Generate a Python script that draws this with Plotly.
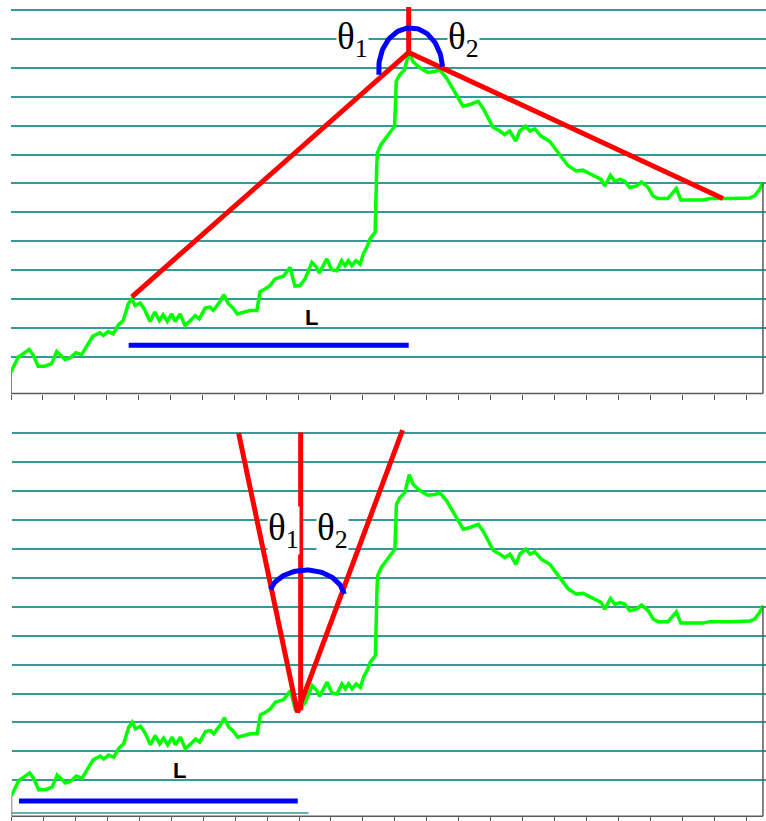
import numpy as np
import plotly.graph_objects as go

# ---------------- data (x in days, ticks every 10; y in price units, grid every 10) -------------
x_days = [0, 2.3, 3.4, 5.7, 7.0, 8.5, 10.6, 12.7, 14.3, 15.9, 16.9, 18.5, 20.3, 22.1, 23.7, 25.6,
          27.8, 28.9, 30.4, 32.0, 33.6, 35.1, 36.7, 37.8, 38.8, 40.4, 41.7, 43.5, 45.0, 46.4, 47.6,
          48.9, 50.3, 51.3, 52.9, 54.4, 56.5, 57.6, 58.9, 60.7, 62.3, 63.3, 65.4, 66.6, 68.0, 69.5,
          70.8, 72.7, 74.8, 76.9, 77.9, 79.5, 81.0, 82.6, 85.2, 87.3, 88.8, 90.4, 92.0, 94.1, 95.6,
          96.4, 98.8, 100.3, 101.9, 103.4, 104.5, 105.5, 106.6, 107.9, 109.2, 110.2, 111.3, 112.3,
          113.9, 114.4, 114.6, 115.7, 118.5, 120.0, 120.5, 121.6, 123.1, 124.5, 125.7, 127.3, 128.9,
          130.4, 132.5, 134.1, 136.2, 138.3, 141.4, 143.5, 146.1, 147.6, 150.8, 152.9, 154.4, 156.0,
          157.9, 159.1, 161.0, 162.3, 163.8, 165.9, 168.5, 171.6, 174.2, 176.8, 178.9, 180.5, 182.6,
          184.6, 185.7, 187.5, 188.8, 190.6, 192.0, 193.5, 195.6, 197.2, 199.3, 200.8, 202.4, 205.5,
          208.1, 209.5, 216.5, 218.6, 224.8, 231.1, 232.6, 234.2, 235.2]
price = [-5.2, 0.0, 0.8, 2.6, 0.6, -3.2, -3.2, -2.3, 1.9, 0.0, -0.9, -0.3, 1.5, 0.8, 4.0, 7.2,
         8.4, 7.4, 8.8, 8.0, 11.1, 12.6, 18.4, 20.1, 17.8, 18.7, 16.6, 12.3, 15.5, 12.6, 14.6,
         12.3, 14.9, 12.3, 14.9, 10.9, 13.0, 14.3, 13.2, 16.9, 17.2, 16.1, 19.2, 21.6, 18.4, 16.9,
         14.9, 15.5, 16.1, 16.1, 22.6, 23.5, 24.7, 27.0, 27.9, 31.0, 24.5, 24.7, 27.0, 32.7, 31.0,
         29.0, 33.9, 30.2, 29.8, 33.3, 31.6, 33.3, 31.6, 33.3, 32.1, 35.6, 37.9, 40.8,
         43.1, 66.0, 70.6, 73.4, 77.5, 79.8, 95.3, 97.6, 99.3, 105.5, 102.2, 100.5, 99.3,
         98.4, 98.7, 99.3, 96.5, 92.4, 86.7, 87.3, 88.4, 86.1, 79.4, 78.1, 76.9, 78.1,
         74.6, 78.1, 79.8, 78.1, 78.9, 76.3, 74.6, 70.0, 66.2, 64.3, 64.6, 63.7, 62.6,
         61.4, 59.1, 62.8, 60.8, 61.4, 60.8, 58.6, 59.1, 60.5, 58.6, 55.7, 54.8, 54.8,
         58.2, 54.3, 54.3, 54.8, 54.8, 55.0, 55.7, 58.0, 60.3]

grid_vals = list(range(0, 121, 10))
tick_vals = list(range(0, 231, 10))

# construction lines (top panel): base point, peak, end point
top_red_x = [37.8, 124.4, 222.7]
top_red_y = [20.8, 105.3, 54.8]
top_vert_y = [105.3, 121.0]
top_L_x = [36.8, 124.4]
top_L_y = 4.1
top_arc = dict(cx=125.0, cy=99.3, rx=10.0, ry=14.5, a0=186.8, a1=4.5)

# construction lines (bottom panel)
bot_v_x = [71.1, 89.5, 122.4]
bot_v_y = [119.8, 23.5, 120.9]
bot_vert_x = 90.5
bot_vert_y = [24.2, 120.1]
bot_L_x = [2.35, 89.6]
bot_L_y = -7.1
bot_arc = dict(cx=92.3, cy=63.0, rx=11.9, ry=9.6, a0=162, a1=8)

W, H = 766, 821
GREEN, RED, BLUE = "#00ff00", "#ff0000", "#0000ff"
GRID = "#339999"
AX = "#5a5a5a"


def arc(p):
    t = np.radians(np.linspace(p["a0"], p["a1"], 60))
    return p["cx"] + p["rx"] * np.cos(t), p["cy"] + p["ry"] * np.sin(t)


fig = go.Figure()
for xa, ya in (("x", "y"), ("x2", "y2")):
    fig.add_trace(go.Scatter(x=x_days, y=price, mode="lines", xaxis=xa, yaxis=ya,
                             line=dict(color=GREEN, width=3.5), hoverinfo="skip", showlegend=False))

# top panel construction
fig.add_trace(go.Scatter(x=top_red_x, y=top_red_y, mode="lines", line=dict(color=RED, width=5),
                         xaxis="x", yaxis="y", showlegend=False))
fig.add_trace(go.Scatter(x=[top_red_x[1]] * 2, y=top_vert_y, mode="lines",
                         line=dict(color=RED, width=5), xaxis="x", yaxis="y", showlegend=False))
ax_, ay_ = arc(top_arc)
fig.add_trace(go.Scatter(x=ax_, y=ay_, mode="lines", line=dict(color=BLUE, width=5),
                         xaxis="x", yaxis="y", showlegend=False))
fig.add_trace(go.Scatter(x=top_L_x, y=[top_L_y] * 2, mode="lines", line=dict(color=BLUE, width=5),
                         xaxis="x", yaxis="y", showlegend=False))

# bottom panel construction
fig.add_trace(go.Scatter(x=bot_v_x, y=bot_v_y, mode="lines", line=dict(color=RED, width=5),
                         xaxis="x2", yaxis="y2", showlegend=False))
fig.add_trace(go.Scatter(x=[bot_vert_x] * 2, y=bot_vert_y, mode="lines",
                         line=dict(color=RED, width=5), xaxis="x2", yaxis="y2", showlegend=False))
bx_, by_ = arc(bot_arc)
fig.add_trace(go.Scatter(x=bx_, y=by_, mode="lines", line=dict(color=BLUE, width=5),
                         xaxis="x2", yaxis="y2", showlegend=False))
fig.add_trace(go.Scatter(x=bot_L_x, y=[bot_L_y] * 2, mode="lines", line=dict(color=BLUE, width=5),
                         xaxis="x2", yaxis="y2", showlegend=False))

xcommon = dict(range=[0, 236.16], tickvals=tick_vals, ticks="outside", ticklen=5, tickwidth=1,
               tickcolor=AX, showticklabels=False, showgrid=False, zeroline=False, showline=False)
ycommon = dict(tickvals=grid_vals, showgrid=True, gridcolor=GRID, gridwidth=1.5,
               showticklabels=False, ticks="", zeroline=False, showline=False)

fig.update_layout(
    width=W, height=H, margin=dict(l=0, r=0, t=0, b=0),
    paper_bgcolor="white", plot_bgcolor="white", showlegend=False,
    xaxis=dict(domain=[11 / W, 1], anchor="y", **xcommon),
    yaxis=dict(domain=[1 - 395 / H, 1], range=[-12.64, 123.42], anchor="x", **ycommon),
    xaxis2=dict(domain=[11.5 / W, 1], anchor="y2", **xcommon),
    yaxis2=dict(domain=[1 - 819.3 / H, 1 - 405 / H], range=[-12.38, 130.07], anchor="x2", **ycommon),
)

shapes = []
for xr, yr in (("x", "y"), ("x2", "y2")):
    # baseline (category axis)
    shapes.append(dict(type="line", xref=xr, yref=yr + " domain", x0=0, x1=x_days[-1], y0=0, y1=0,
                       line=dict(color=AX, width=1.5)))
    # area outline edges at both ends of the series
    shapes.append(dict(type="line", xref=xr, yref=yr, x0=x_days[0], x1=x_days[0], y0=price[0],
                       y1=-13, line=dict(color=AX, width=1.5)))
    shapes.append(dict(type="line", xref=xr, yref=yr, x0=x_days[-1], x1=x_days[-1], y0=price[-1],
                       y1=-13, line=dict(color=AX, width=1.5)))
# partial extra gridline in bottom panel
shapes.append(dict(type="line", xref="x2", yref="y2", x0=0, x1=93, y0=-11.2, y1=-11.2,
                   line=dict(color=GRID, width=1.5)))
fig.update_layout(shapes=shapes)

theta_font = dict(family="Liberation Serif", size=37, color="black")
L_font = dict(family="Liberation Sans", size=22, color="black")
ann = [
    dict(x=106.9, y=109.6, xref="x", yref="y", text="θ<sub>1</sub>", font=theta_font),
    dict(x=141.4, y=109.6, xref="x", yref="y", text="θ<sub>2</sub>", font=theta_font),
    dict(x=85.1, y=86.1, xref="x2", yref="y2", text="θ<sub>1</sub>", font=theta_font),
    dict(x=100.4, y=86.1, xref="x2", yref="y2", text="θ<sub>2</sub>", font=theta_font),
    dict(x=94.0, y=13.6, xref="x", yref="y", text="<b>L</b>", font=L_font),
    dict(x=52.5, y=3.5, xref="x2", yref="y2", text="<b>L</b>", font=L_font),
]
for a in ann:
    a.update(showarrow=False, xanchor="center", yanchor="middle", borderpad=0)
    if "θ" in a["text"]:
        a["bgcolor"] = "white"
fig.update_layout(annotations=ann)

fig.write_html("out.html")
